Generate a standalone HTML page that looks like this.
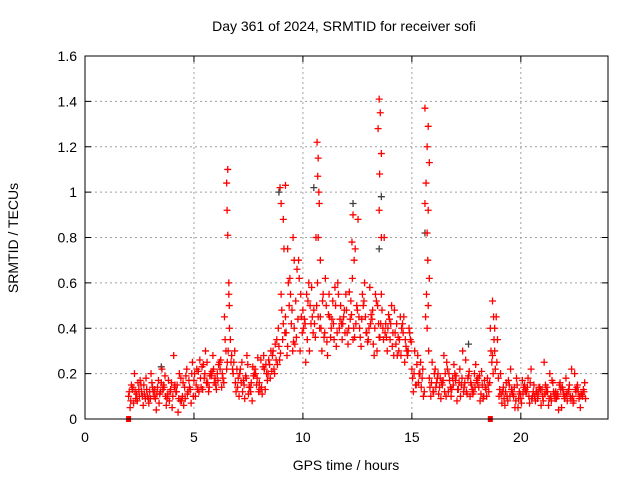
<!DOCTYPE html>
<html><head><meta charset="utf-8"><style>
body{margin:0;background:#fff;}
svg{display:block;font-family:"Liberation Sans",sans-serif;}
</style></head><body>
<svg id="chart" width="640" height="480" viewBox="0 0 640 480">
<text x="344" y="31" font-size="14" text-anchor="middle">Day 361 of 2024, SRMTID for receiver sofi</text>
<text x="0" y="0" font-size="14" text-anchor="middle" transform="translate(18,238) rotate(-90)">SRMTID / TECUs</text>
<text x="346" y="470" font-size="14" text-anchor="middle">GPS time / hours</text>
<g id="grid"></g>
<g id="ticks"></g>
<g id="marks"></g>
<rect x="85" y="56" width="523" height="363" fill="none" stroke="#000" stroke-width="1"/>
</svg>
<script>
const xTicks=[0,5,10,15,20];
const yTicks=[0,0.2,0.4,0.6,0.8,1,1.2,1.4,1.6];
const yTickLabels=["0","0.2","0.4","0.6","0.8","1","1.2","1.4","1.6"];
const times=[2.0,2.2,2.4,2.6,2.8,3.0,3.2,3.4,3.6,3.8,4.0,4.2,4.4,4.6,4.8,5.0,5.2,5.4,5.6,5.8,6.0,6.2,6.4,6.6,6.8,7.0,7.2,7.4,7.6,7.8,8.0,8.2,8.4,8.6,8.8,9.0,9.2,9.4,9.6,9.8,10.0,10.2,10.4,10.6,10.8,11.0,11.2,11.4,11.6,11.8,12.0,12.2,12.4,12.6,12.8,13.0,13.2,13.4,13.6,13.8,14.0,14.2,14.4,14.6,14.8,15.0,15.2,15.4,15.6,15.8,16.0,16.2,16.4,16.6,16.8,17.0,17.2,17.4,17.6,17.8,18.0,18.2,18.4,18.6,18.8,19.0,19.2,19.4,19.6,19.8,20.0,20.2,20.4,20.6,20.8,21.0,21.2,21.4,21.6,21.8,22.0,22.2,22.4,22.6,22.8];
const valsA=[.10,.14,.08,.12,.18,.09,.13,.07,.15,.11,.05,.12,.18,.09,.14,.17,.21,.13,.25,.19,.15,.22,.45,.55,.20,.14,.25,.18,.12,.22,.16,.28,.20,.28,.35,.55,.45,.62,.40,.70,.48,.35,.58,.80,.45,.38,.55,.42,.60,.35,.48,.52,.75,.40,.52,.35,.48,.30,.55,.42,.35,.48,.30,.38,.28,.22,.15,.25,.95,.18,.12,.20,.15,.25,.10,.17,.22,.14,.19,.11,.16,.21,.13,.40,.30,.10,.14,.08,.12,.18,.09,.13,.07,.15,.11,.10,.14,.08,.12,.16,.09,.13,.07,.15,.11];
const valsB=[.05,.20,.13,.06,.10,.16,.04,.12,.19,.08,.28,.03,.10,.22,.07,.10,.26,.18,.12,.28,.20,.14,.30,.35,.30,.10,.17,.24,.08,.15,.26,.13,.24,.22,.40,.35,.28,.42,.52,.30,.44,.60,.38,.60,.30,.50,.36,.58,.40,.45,.33,.62,.50,.32,.45,.58,.28,.42,.40,.30,.50,.33,.45,.25,.40,.12,.28,.18,.55,.10,.22,.14,.28,.12,.18,.08,.15,.26,.10,.20,.14,.09,.18,.25,.45,.20,.06,.15,.10,.05,.17,.12,.22,.08,.14,.25,.06,.16,.11,.05,.18,.10,.20,.09,.13];
const valsC=[.15,.09,.17,.11,.07,.12,.14,.22,.06,.13,.15,.20,.06,.12,.25,.22,.14,.30,.19,.16,.24,.18,.25,.28,.12,.22,.09,.14,.19,.27,.11,.20,.30,.33,.26,.75,.60,.30,.66,.45,.25,.50,.42,1.00,.55,.28,.44,.32,.50,.38,.56,.40,.88,.55,.38,.46,.55,.36,.80,.46,.38,.28,.40,.32,.35,.30,.20,.10,.70,.25,.16,.09,.20,.17,.24,.13,.30,.11,.15,.24,.08,.17,.12,.20,.35,.07,.16,.22,.05,.12,.14,.18,.10,.12,.06,.15,.20,.11,.04,.13,.08,.22,.12,.05,.16];
const valsD=[.12,.07,.16,.10,.13,.20,.09,.11,.14,.17,.10,.15,.08,.19,.13,.20,.12,.24,.16,.21,.13,.26,.35,.40,.25,.18,.12,.28,.16,.20,.13,.22,.26,.30,.24,.48,.38,.55,.33,.62,.40,.52,.45,.50,.40,.62,.45,.35,.55,.42,.38,.46,.42,.36,.60,.40,.33,.50,.48,.36,.42,.38,.35,.45,.30,.18,.24,.14,.45,.14,.20,.11,.17,.22,.13,.19,.10,.16,.21,.12,.18,.15,.10,.30,.22,.13,.09,.17,.11,.15,.07,.12,.16,.10,.14,.08,.12,.17,.09,.13,.10,.15,.08,.12,.10];
const valsE=[.08,.12,.10,.15,.09,.14,.11,.16,.10,.12,.14,.09,.16,.11,.20,.15,.18,.20,.14,.22,.17,.20,.22,.25,.16,.20,.15,.11,.23,.18,.14,.24,.18,.20,.32,.42,.32,.48,.36,.55,.42,.30,.48,.45,.52,.34,.40,.50,.44,.48,.40,.35,.48,.44,.38,.42,.40,.36,.35,.40,.32,.42,.28,.35,.38,.20,.16,.22,.40,.16,.14,.18,.12,.20,.15,.13,.18,.12,.16,.14,.19,.10,.15,.28,.25,.11,.12,.10,.14,.09,.11,.14,.09,.12,.13,.11,.09,.12,.10,.14,.11,.09,.13,.10,.12];
const valsF=[.13,.11,.15,.09,.12,.10,.17,.13,.09,.16,.12,.08,.14,.17,.10,.13,.23,.16,.20,.18,.25,.16,.30,.22,.22,.16,.19,.14,.20,.12,.23,.17,.21,.26,.29,.38,.50,.34,.44,.38,.55,.42,.36,.40,.36,.46,.52,.38,.42,.55,.44,.36,.45,.50,.34,.44,.52,.42,.38,.44,.28,.36,.42,.30,.34,.15,.20,.12,.30,.12,.18,.16,.10,.14,.20,.16,.12,.18,.13,.17,.11,.14,.16,.35,.18,.12,.10,.13,.08,.11,.15,.10,.12,.09,.13,.12,.10,.09,.15,.11,.12,.10,.14,.11,.09];
const spikeT=[6.55,6.5,6.52,6.55,6.6,6.62,8.95,9.0,9.1,9.2,9.3,9.55,9.6,10.65,10.7,10.68,10.75,10.7,10.8,12.3,12.25,12.35,13.5,13.55,13.45,13.6,13.52,13.5,13.6,15.6,15.75,15.7,15.8,15.65,15.75,15.7,15.8,15.75,18.7,18.75,18.8];
const spikeV=[1.1,1.04,.92,.81,.6,.5,1.02,.95,.88,1.03,.75,.8,.7,1.22,1.15,1.07,.95,.8,.7,.9,.78,.7,1.41,1.35,1.28,1.17,1.08,.92,.8,1.37,1.29,1.2,1.13,1.04,.92,.82,.62,.5,.52,.45,.4];
const blackT=[8.9,10.5,12.3,13.6,13.5,15.6,3.5,17.6];
const blackV=[1.0,1.02,.95,.98,.75,.82,.23,.33];
const squareT=[2.0,18.6];

const X0=85,X1=608,Y0=419,Y1=56,XMAX=24,YMAX=1.6;
function sx(t){return X0+(X1-X0)*t/XMAX;}
function sy(v){return Y0-(Y0-Y1)*v/YMAX;}
const NS='http://www.w3.org/2000/svg';
function mk(tag,attrs,parent){const e=document.createElementNS(NS,tag);for(const k in attrs)e.setAttribute(k,attrs[k]);parent.appendChild(e);return e;}
const grid=document.getElementById('grid'),ticks=document.getElementById('ticks'),marks=document.getElementById('marks');
xTicks.forEach(t=>{
  const x=sx(t);
  if(t>0){const g=mk('line',{x1:x,x2:x,y1:Y0,y2:Y1,stroke:'#a0a0a0','stroke-dasharray':'2,3'},grid);
  
  }
  mk('line',{x1:x,x2:x,y1:Y0,y2:Y0-6,stroke:'#000'},ticks);
  mk('line',{x1:x,x2:x,y1:Y1,y2:Y1+6,stroke:'#000'},ticks);
  const l=mk('text',{x:x,y:442,'font-size':14,'text-anchor':'middle'},ticks);l.textContent=t;
  
  
});
yTicks.forEach((v,i)=>{
  const y=sy(v);
  if(v>0&&v<1.6){const g=mk('line',{x1:X0,x2:X1,y1:y,y2:y,stroke:'#a0a0a0','stroke-dasharray':'2,3'},grid);
  
  }
  mk('line',{x1:X0,x2:X0+6,y1:y,y2:y,stroke:'#000'},ticks);
  mk('line',{x1:X1,x2:X1-6,y1:y,y2:y,stroke:'#000'},ticks);
  const l=mk('text',{x:77,y:y+5,'font-size':14,'text-anchor':'end'},ticks);l.textContent=yTickLabels[i];
  
  
});
function plus(t,v,col){
  const x=sx(t),y=sy(v);
  const p=mk('path',{d:`M${x-3.5},${y}h7M${x},${y-3.5}v7`,stroke:col,'stroke-width':1.3,fill:'none'},marks);
  
  
}
blackT.forEach((t,i)=>plus(t,blackV[i],'#404040'));
times.forEach((t,i)=>{
  plus(t,valsA[i],'#ff0000');
  plus(t+0.03,valsD[i],'#ff0000');
  plus(t+0.07,valsB[i],'#ff0000');
  plus(t+0.10,valsE[i],'#ff0000');
  plus(t+0.13,valsC[i],'#ff0000');
  plus(t+0.17,valsF[i],'#ff0000');
});
spikeT.forEach((t,i)=>plus(t,spikeV[i],'#ff0000'));
squareT.forEach(t=>{
  const r=mk('rect',{x:sx(t)-2.5,y:Y0-3,width:5,height:6,fill:'#ff0000'},marks);
  
  
});
</script>
</body></html>
